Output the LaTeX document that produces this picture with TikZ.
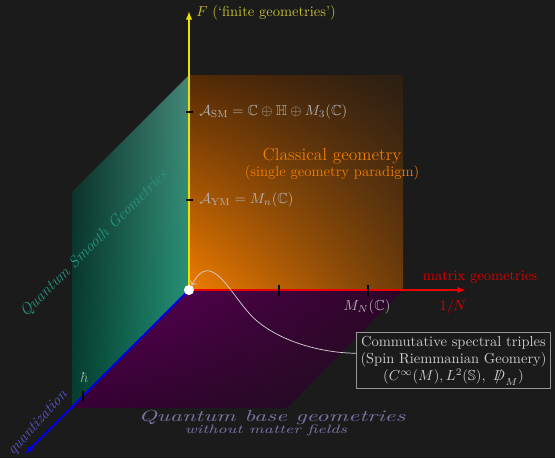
\documentclass[tikz,border=0pt]{standalone}
\usepackage{amsmath,amssymb}
\usepackage{graphicx}
\usetikzlibrary{arrows.meta,calc,shadings}
\definecolor{bg}{RGB}{27,27,27}
\definecolor{axyellow}{RGB}{235,225,0}
\definecolor{axred}{RGB}{235,0,0}
\definecolor{axblue}{RGB}{0,0,235}
\definecolor{flabel}{RGB}{200,190,50}
\definecolor{alabel}{RGB}{180,180,180}
\definecolor{classic}{RGB}{240,125,0}
\definecolor{redlabel}{RGB}{220,0,0}
\definecolor{boxtext}{RGB}{205,205,205}
\definecolor{boxline}{RGB}{150,150,150}
\definecolor{baselabel}{RGB}{125,115,165}
\definecolor{quantlabel}{RGB}{85,85,195}
\definecolor{smoothlabel}{RGB}{40,150,130}
\definecolor{hbarlabel}{RGB}{150,175,165}
\definecolor{curvecol}{RGB}{210,210,210}
\definecolor{tealUL}{RGB}{15,45,40}
\definecolor{tealUR}{RGB}{70,135,120}
\definecolor{tealLL}{RGB}{5,62,48}
\definecolor{tealLR}{RGB}{20,150,115}
\definecolor{orUL}{RGB}{85,42,5}
\definecolor{orUR}{RGB}{42,30,20}
\definecolor{orLL}{RGB}{240,125,0}
\definecolor{orLR}{RGB}{110,60,10}
\definecolor{puUL}{RGB}{95,0,90}
\definecolor{puUR}{RGB}{45,5,40}
\definecolor{puLL}{RGB}{55,0,52}
\definecolor{puLR}{RGB}{28,15,28}
\newcommand{\Dsl}{\mbox{\ooalign{$D$\cr\hidewidth$/$\hidewidth\cr}}}
\tikzset{
  axis/.style={line width=1.4pt,-{Latex[length=6pt,width=4.5pt]}},
  tickmark/.style={line width=1pt,black},
  lbl/.style={inner sep=0pt},
}
\begin{document}
\begin{tikzpicture}[x=0.69pt,y=-0.69pt]
\fill[bg] (0,0) rectangle (555,458);
\useasboundingbox (0,0) rectangle (555,458);
% faces
\shade[upper left=tealUL,upper right=tealUR,lower left=tealLL,lower right=tealLR]
  (189,75) -- (189,290) -- (72,408) -- (72,192) -- cycle;
\shade[upper left=orUL,upper right=orUR,lower left=orLL,lower right=orLR]
  (189,75) rectangle (403,290);
\shade[upper left=puUL,upper right=puUR,lower left=puLL,lower right=puLR]
  (189,290) -- (403,290) -- (287,408) -- (72,408) -- cycle;
% axes
\node[circle,inner sep=0pt,minimum size=7pt] (O) at (189,290) {};
\coordinate (Ftip) at (189,11);
\coordinate (Ntip) at (466,290);
\coordinate (Qtip) at (25,454);
\draw[axis,axyellow] (O.center) -- (Ftip);
\draw[axis,axred] (O.center) -- (Ntip);
\draw[axis,axblue] (O.center) -- (Qtip);
% ticks
\draw[tickmark] (185.5,112) -- (193,112);
\draw[tickmark] (185.5,200) -- (193,200);
\draw[tickmark] (279,285) -- (279,296);
\draw[tickmark] (368,285) -- (368,296);
\draw[tickmark] (83,391) -- (83,402);
% labels
\node[lbl,anchor=west,text=flabel] (Flab) at (196,13) {$F$ (`finite geometries')};
\node[lbl,anchor=west,text=alabel] (Asm) at (199,112) {$\mathcal{A}_{\mathrm{SM}}=\mathbb{C}\oplus\mathbb{H}\oplus M_3(\mathbb{C})$};
\node[lbl,anchor=west,text=alabel] (Aym) at (199,200) {$\mathcal{A}_{\mathrm{YM}}=M_n(\mathbb{C})$};
\node[lbl,text=classic,font=\large] (cl1) at (332,156) {Classical geometry};
\node[lbl,text=classic] (cl2) at (332,173) {(single geometry paradigm)};
\node[lbl,text=redlabel] (mg) at (480,277) {matrix geometries};
\node[lbl,text=redlabel] (invN) at (453,307) {$1/N$};
\node[lbl,text=alabel] (MN) at (367,307) {$M_N(\mathbb{C})$};
\node[lbl,text=hbarlabel] (hb) at (84,378) {$\hbar$};
\node[lbl,text=smoothlabel,font=\fontsize{11}{13}\selectfont\itshape,rotate=45] (qsg) at (94,244) {Quantum Smooth Geometries};
\node[lbl,text=quantlabel,font=\fontsize{10.5}{12}\selectfont\itshape,rotate=48] (qz) at (38,423) {quantization};
\node[lbl,text=baselabel,font=\itshape] (qb1) at (272,418) {\scalebox{1.65}[1.1]{Quantum base geometries}};
\node[lbl,text=baselabel,font=\footnotesize\itshape] (qb2) at (266,430) {\scalebox{1.45}[1.05]{without matter fields}};
% text box
\node[draw=boxline,line width=0.6pt,fill=bg,text=boxtext,align=center,inner sep=2.5pt] (box) at (453.5,360.5)
  {Commutative spectral triples\\(Spin Riemmanian Geomery)\\$(C^\infty(M),L^2(\mathbb{S}),\ \Dsl_M)$};
% origin dot
\fill[white] (O) circle (3.5pt);
% curve
\draw[->,line width=0.5pt,curvecol]
  ([yshift=5pt]box.west) .. controls (322,353) and (282,342) .. (257,321)
  .. controls (232,300) and (212,245) .. (O.60);
\end{tikzpicture}
\end{document}
